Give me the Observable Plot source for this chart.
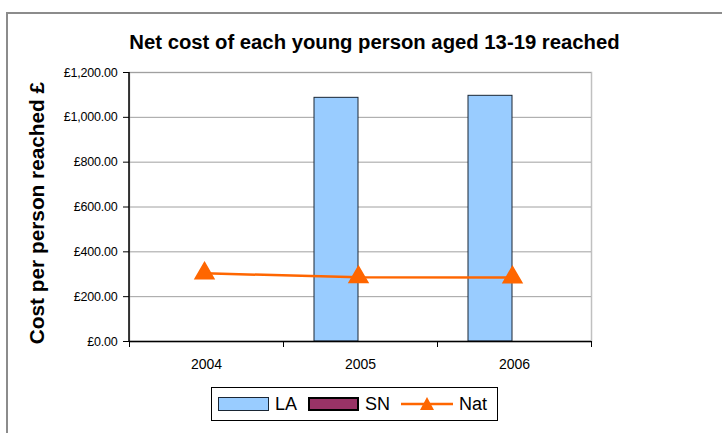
<!DOCTYPE html>
<html><head><meta charset="utf-8">
<script src="https://cdn.jsdelivr.net/npm/d3@7"></script>
<script src="https://cdn.jsdelivr.net/npm/@observablehq/plot@0.6"></script>
<style>
body{margin:0;overflow:hidden;background:#fff;font-family:Arial,"Liberation Sans",sans-serif}
#wrap{position:relative;width:722px;height:433px;overflow:hidden}
#border{position:absolute;left:6px;top:12px;width:800px;height:500px;border:2px solid #8c8c8c}
#chart{position:absolute;left:0;top:0}
#title{position:absolute;left:0;width:749px;top:30px;line-height:24px;text-align:center;font-weight:bold;font-size:20.3px;color:#000}
#ytitle{position:absolute;left:-113px;top:201px;width:300px;height:24px;line-height:24px;text-align:center;font-weight:bold;font-size:20.8px;transform:rotate(-90deg);color:#000;white-space:nowrap}
#legend{position:absolute;left:211px;top:387px;width:287px;height:34px;border:1px solid #000;box-sizing:border-box;display:flex;align-items:center;font-size:18px;font-family:Arial,"Liberation Sans",sans-serif}
.sw{display:inline-block;width:51px;height:14px;box-sizing:border-box}
.it{display:flex;align-items:center}
</style></head><body>
<div id="wrap">
<div id="border"></div>
<div id="chart"></div>
<div id="title">Net cost of each young person aged 13-19 reached</div>
<div id="ytitle">Cost per person reached £</div>
<div id="legend"></div>
</div>
<script>
const years = ["2004", "2005", "2006"];
const seriesNames = ["LA", "SN", "Nat"];
const laValues = [null, 1087, 1096];
const snValues = [null, null, null];
const natValues = [304, 287, 286];
const yTicks = [0, 200, 400, 600, 800, 1000, 1200];
const colors = {LA: "#99CCFF", SN: "#993366", Nat: "#FF6600"};

const la = years.map((y, i) => ({year: y, value: laValues[i]})).filter(d => d.value != null);
const sn = years.map((y, i) => ({year: y, value: snValues[i]})).filter(d => d.value != null);
const nat = years.map((y, i) => ({year: y, value: natValues[i]}));

const fmt = d => "£" + d3.format(",.2f")(d);

const plot = Plot.plot({
  width: 722,
  height: 433,
  marginLeft: 129,
  marginRight: 131,
  marginTop: 72,
  marginBottom: 92,
  style: {background: "transparent", color: "#000", fontFamily: "Arial, 'Liberation Sans', sans-serif"},
  x: {type: "band", domain: years, padding: 0, label: null},
  y: {domain: [0, 1200], ticks: yTicks, label: null},
  marks: [
    Plot.frame({stroke: "#c0c0c0", strokeWidth: 1.5}),
    Plot.gridY(yTicks, {stroke: "#a0a0a0", strokeOpacity: 1, strokeWidth: 1}),
    Plot.barY(la, {x: "year", y: "value", fill: colors.LA, stroke: "#1a2634", strokeWidth: 1, insetLeft: 31, insetRight: 79}),
    Plot.barY(sn, {x: "year", y: "value", fill: colors.SN, stroke: "#000", strokeWidth: 1, insetLeft: 77, insetRight: 33}),
    Plot.ruleY([0], {stroke: "#000", strokeWidth: 1.5}),
    Plot.axisY({ticks: yTicks, tickSize: 6, tickPadding: 6, tickFormat: fmt, stroke: "#000", fill: "#000"}),
    Plot.axisX({tickSize: 6, tickFormat: () => "", dx: -77, stroke: "#000"}),
    Plot.axisX({ticks: ["2006"], tickSize: 6, tickFormat: () => "", dx: 77, stroke: "#000"}),
    Plot.axisX({tickSize: 0, tickPadding: 18, fill: "#000"}),
    Plot.line(nat, {x: "year", y: "value", stroke: colors.Nat, strokeWidth: 2.5, dx: -2}),
    Plot.dot(nat, {x: "year", y: "value", symbol: "triangle", r: 7, fill: colors.Nat, stroke: colors.Nat, dx: -2})
  ]
});
document.getElementById("chart").appendChild(plot);
const svg = d3.select(plot);
// font sizes of tick labels
svg.selectAll("text").each(function() {
  const t = d3.select(this);
  const s = this.textContent;
  if (s.startsWith("£")) t.style("font-size", "12.5px").style("letter-spacing", "-0.2px");
  else if (years.includes(s)) t.style("font-size", "14px");
});
// left axis line
svg.append("line").attr("x1", 129).attr("x2", 129).attr("y1", 72).attr("y2", 341).attr("stroke", "#000").attr("stroke-width", 1.5);

const legend = document.getElementById("legend");
const items = [
  `<span class="sw" style="background:${colors.LA};border:1px solid #1a2634"></span>`,
  `<span class="sw" style="background:${colors.SN};border:2px solid #000"></span>`,
  `<svg width="52" height="16"><line x1="0" x2="52" y1="8" y2="8" stroke="${colors.Nat}" stroke-width="2.5"/><path d="M26,1 L33,14 L19,14 Z" fill="${colors.Nat}"/></svg>`
];
legend.innerHTML = items.map((h, i) => `<span class="it" style="margin-left:${i === 0 ? 6 : 11}px">${h}<span style="margin-left:6px">${seriesNames[i]}</span></span>`).join("");
</script>
</body></html>
